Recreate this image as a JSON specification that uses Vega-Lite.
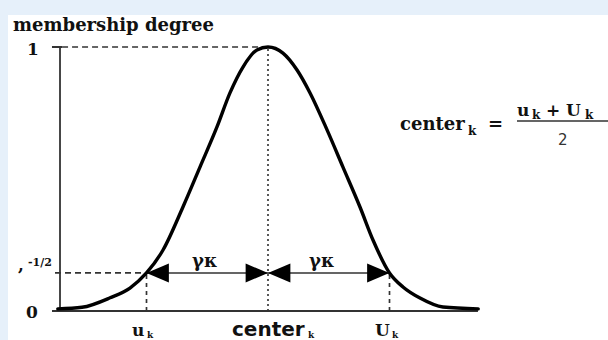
{
  "$schema": "https://vega.github.io/schema/vega-lite/v6.json",
  "width": 608,
  "height": 340,
  "autosize": {"type": "none"},
  "padding": 0,
  "background": "#e6f0fa",
  "config": {"view": {"stroke": null}},
  "datasets": {
    "panel": [{"x": -2.14, "x2": 2.8, "y": -0.11, "y2": 1.121}],
    "curve": [
      {"x": -1.73, "y": 0.008}, {"x": -1.531, "y": 0.014}, {"x": -1.3, "y": 0.05},
      {"x": -1.136, "y": 0.087}, {"x": -1.0, "y": 0.144}, {"x": -0.864, "y": 0.231},
      {"x": -0.7, "y": 0.394}, {"x": -0.56, "y": 0.545}, {"x": -0.42, "y": 0.697},
      {"x": -0.313, "y": 0.826}, {"x": -0.206, "y": 0.924}, {"x": -0.091, "y": 0.989},
      {"x": 0, "y": 1.0}, {"x": 0.123, "y": 0.977}, {"x": 0.239, "y": 0.913},
      {"x": 0.346, "y": 0.826}, {"x": 0.486, "y": 0.686}, {"x": 0.617, "y": 0.545},
      {"x": 0.757, "y": 0.394}, {"x": 0.864, "y": 0.269}, {"x": 1.0, "y": 0.144},
      {"x": 1.111, "y": 0.091}, {"x": 1.251, "y": 0.049}, {"x": 1.44, "y": 0.015},
      {"x": 1.73, "y": 0.008}
    ],
    "segments": [
      {"kind": "axis", "x": -1.7119, "x2": -1.7119, "y": 0, "y2": 1},
      {"kind": "axis", "x": -1.778, "x2": 1.728, "y": 0, "y2": 0},
      {"kind": "axis", "x": -1.778, "x2": -1.695, "y": 1, "y2": 1},
      {"kind": "dashed", "x": -1.695, "x2": 0, "y": 1, "y2": 1},
      {"kind": "dashed", "x": -1.753, "x2": -1, "y": 0.144, "y2": 0.144},
      {"kind": "vdash", "x": -1, "x2": -1, "y": 0, "y2": 0.144},
      {"kind": "vdash", "x": 1, "x2": 1, "y": 0, "y2": 0.144},
      {"kind": "dotted", "x": 0, "x2": 0, "y": 0, "y2": 1},
      {"kind": "arrow", "x": -1, "x2": 1, "y": 0.144, "y2": 0.144},
      {"kind": "fracbar", "x": 2.0494, "x2": 2.8, "y": 0.7197, "y2": 0.7197}
    ],
    "heads": [
      {"x": -1, "y": 0.144, "dir": "left"},
      {"x": 0, "y": 0.144, "dir": "right"},
      {"x": 0, "y": 0.144, "dir": "left"},
      {"x": 1, "y": 0.144, "dir": "right"}
    ],
    "labels": [
      {"role": "title", "text": "membership degree", "x": -2.0988, "y": 1.0606},
      {"role": "tick", "text": "1", "x": -1.9835, "y": 0.9697},
      {"role": "tick", "text": "0", "x": -1.9918, "y": -0.0265},
      {"role": "tick", "text": ",", "x": -2.0576, "y": 0.1515},
      {"role": "small", "text": "-1/2", "x": -1.9753, "y": 0.1705},
      {"role": "greek", "text": "γκ", "x": -0.6255, "y": 0.1667},
      {"role": "greek", "text": "γκ", "x": 0.3374, "y": 0.1667},
      {"role": "xlab", "text": "u", "x": -1.1193, "y": -0.0947},
      {"role": "xsub", "text": "k", "x": -0.9959, "y": -0.1023},
      {"role": "xsub", "text": "k", "x": 0.3292, "y": -0.1023},
      {"role": "xlab", "text": "U", "x": 0.8807, "y": -0.0947},
      {"role": "xsub", "text": "k", "x": 1.0206, "y": -0.1023},
      {"role": "fmain", "text": "center", "x": 1.0864, "y": 0.6856},
      {"role": "fsub", "text": "k", "x": 1.6461, "y": 0.6667},
      {"role": "fmain", "text": "=", "x": 1.8107, "y": 0.6856},
      {"role": "fnum", "text": "u", "x": 2.0494, "y": 0.7386},
      {"role": "fsub", "text": "k", "x": 2.1728, "y": 0.7273},
      {"role": "fnum", "text": "+", "x": 2.2881, "y": 0.7386},
      {"role": "fnum", "text": "U", "x": 2.4527, "y": 0.7386},
      {"role": "fsub", "text": "k", "x": 2.6091, "y": 0.7273}
    ],
    "sanslabels": [
      {"role": "xcenter", "text": "center", "x": -0.2963, "y": -0.0947},
      {"role": "denom", "text": "2", "x": 2.3868, "y": 0.6288}
    ]
  },
  "encoding": {
    "x": {"field": "x", "type": "quantitative", "axis": null,
          "scale": {"domain": [-2.20576, 2.79835], "nice": false, "zero": false}},
    "y": {"field": "y", "type": "quantitative", "axis": null,
          "scale": {"domain": [-0.10985, 1.17803], "nice": false, "zero": false}}
  },
  "layer": [
    {
      "data": {"name": "panel"},
      "mark": {"type": "rect", "color": "#ffffff"},
      "encoding": {"x2": {"field": "x2"}, "y2": {"field": "y2"}}
    },
    {
      "data": {"name": "segments"},
      "mark": {"type": "rule", "color": "#333333"},
      "encoding": {
        "x2": {"field": "x2"},
        "y2": {"field": "y2"},
        "strokeDash": {"field": "kind", "type": "nominal", "legend": null,
          "scale": {"domain": ["axis", "dashed", "vdash", "dotted", "arrow", "fracbar"],
                    "range": [[1, 0], [6, 4], [4, 4], [2, 3], [1, 0], [1, 0]]}},
        "strokeWidth": {"field": "kind", "type": "nominal", "legend": null,
          "scale": {"domain": ["axis", "dashed", "vdash", "dotted", "arrow", "fracbar"],
                    "range": [1.8, 1.5, 1.5, 2, 1.5, 2]}}
      }
    },
    {
      "data": {"name": "curve"},
      "mark": {"type": "line", "color": "#000000", "strokeWidth": 3.4, "interpolate": "monotone", "strokeCap": "round"},
      "encoding": {}
    },
    {
      "data": {"name": "heads"},
      "mark": {"type": "point", "filled": true, "color": "#000000", "opacity": 1, "size": 500, "strokeWidth": 0},
      "encoding": {
        "shape": {"field": "dir", "type": "nominal", "legend": null,
          "scale": {"domain": ["left", "right"],
                    "range": ["M0,0L2,-0.85L2,0.85Z", "M0,0L-2,-0.85L-2,0.85Z"]}}
      }
    },
    {
      "data": {"name": "labels"},
      "transform": [{"filter": "indexof(['title','greek','fmain'], datum.role) >= 0"}],
      "mark": {"type": "text", "font": "DejaVu Serif", "fontWeight": "bold", "fontSize": 18, "align": "left", "baseline": "alphabetic", "color": "#111111"},
      "encoding": {"text": {"field": "text"}}
    },
    {
      "data": {"name": "labels"},
      "transform": [{"filter": "indexof(['tick','xlab','fnum'], datum.role) >= 0"}],
      "mark": {"type": "text", "font": "DejaVu Serif", "fontWeight": "bold", "fontSize": 17, "align": "left", "baseline": "alphabetic", "color": "#111111"},
      "encoding": {"text": {"field": "text"}}
    },
    {
      "data": {"name": "labels"},
      "transform": [{"filter": "datum.role === 'small'"}],
      "mark": {"type": "text", "font": "DejaVu Serif", "fontWeight": "bold", "fontSize": 11, "align": "left", "baseline": "alphabetic", "color": "#111111"},
      "encoding": {"text": {"field": "text"}}
    },
    {
      "data": {"name": "labels"},
      "transform": [{"filter": "datum.role === 'xsub'"}],
      "mark": {"type": "text", "font": "DejaVu Serif", "fontWeight": "bold", "fontSize": 9, "align": "left", "baseline": "alphabetic", "color": "#111111"},
      "encoding": {"text": {"field": "text"}}
    },
    {
      "data": {"name": "labels"},
      "transform": [{"filter": "datum.role === 'fsub'"}],
      "mark": {"type": "text", "font": "DejaVu Serif", "fontWeight": "bold", "fontSize": 12, "align": "left", "baseline": "alphabetic", "color": "#111111"},
      "encoding": {"text": {"field": "text"}}
    },
    {
      "data": {"name": "sanslabels"},
      "transform": [{"filter": "datum.role === 'xcenter'"}],
      "mark": {"type": "text", "font": "DejaVu Sans", "fontWeight": "bold", "fontSize": 20, "align": "left", "baseline": "alphabetic", "color": "#111111"},
      "encoding": {"text": {"field": "text"}}
    },
    {
      "data": {"name": "sanslabels"},
      "transform": [{"filter": "datum.role === 'denom'"}],
      "mark": {"type": "text", "font": "DejaVu Sans", "fontSize": 15, "align": "left", "baseline": "alphabetic", "color": "#333333"},
      "encoding": {"text": {"field": "text"}}
    }
  ]
}
